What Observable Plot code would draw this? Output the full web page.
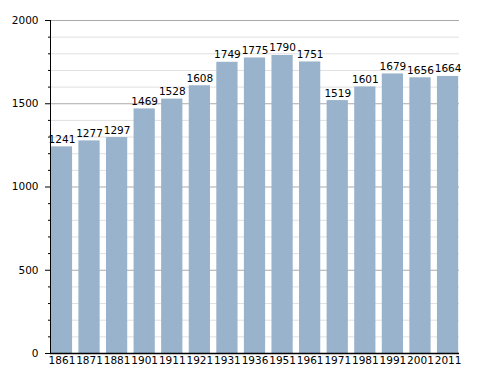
<!DOCTYPE html>
<html>
<head>
<meta charset="utf-8">
<script src="https://cdn.jsdelivr.net/npm/d3@7"></script>
<script src="https://cdn.jsdelivr.net/npm/@observablehq/plot@0.6"></script>
<style>
body { margin: 0; background: #fff; }
svg, svg text { font-family: "DejaVu Sans", sans-serif !important; }
</style>
</head>
<body>
<div id="chart"></div>
<script>
const years = ["1861","1871","1881","1901","1911","1921","1931","1936","1951","1961","1971","1981","1991","2001","2011"];
const values = [1241,1277,1297,1469,1528,1608,1749,1775,1790,1751,1519,1601,1679,1656,1664];
const majorTicks = [0,500,1000,1500,2000];
const minorTicks = [100,200,300,400,600,700,800,900,1100,1200,1300,1400,1600,1700,1800,1900];

const data = years.map((y, i) => ({year: y, value: values[i]}));
const font = "DejaVu Sans";

const chart = Plot.plot({
  width: 488,
  height: 373,
  marginLeft: 50,
  marginRight: 29,
  marginTop: 20,
  marginBottom: 20,
  style: {fontFamily: font, fontSize: "10.5px", color: "#000", background: "#fff"},
  x: {domain: years, paddingInner: 0.23, paddingOuter: 0.03, round: false, label: null},
  y: {domain: [0, 2000], label: null},
  marks: [
    Plot.ruleY(minorTicks, {stroke: "#e0e0e0", strokeWidth: 1}),
    Plot.ruleY(majorTicks, {stroke: "#aaaaaa", strokeWidth: 1}),
    Plot.barY(data, {x: "year", y: "value", fill: "#99b3cc"}),
    Plot.text(data, {x: "year", y: "value", text: d => String(d.value), lineAnchor: "bottom", dy: -4, fill: "#000", fontSize: 10.5, fontFamily: font}),
    Plot.axisY(majorTicks, {tickSize: 5, tickPadding: 7, stroke: "#000", fill: "#000", fontSize: 10.5, fontFamily: font, tickFormat: d => String(d), label: null}),
    Plot.axisY(minorTicks, {tickSize: 2, text: null, stroke: "#000", label: null}),
    Plot.axisX({tickSize: 0, tickPadding: 3, fill: "#000", fontSize: 10.5, fontFamily: font, label: null}),
    Plot.frame({anchor: "left", stroke: "#000"}),
    Plot.ruleY([0], {stroke: "#000", strokeWidth: 1.5})
  ]
});
document.getElementById("chart").appendChild(chart);
</script>
</body>
</html>
